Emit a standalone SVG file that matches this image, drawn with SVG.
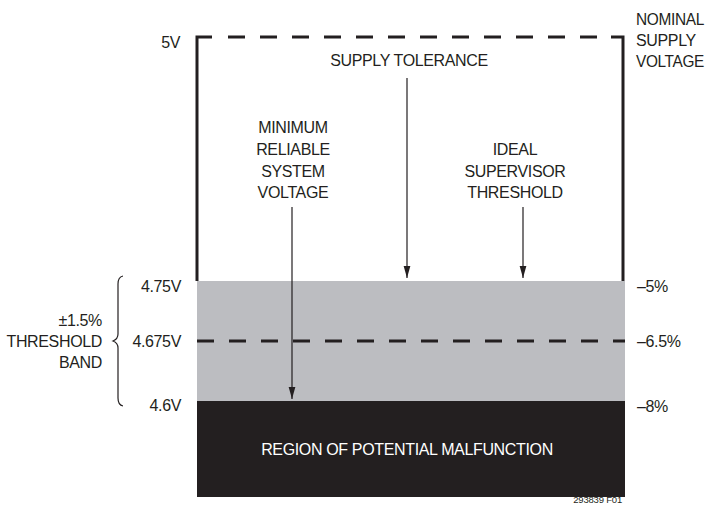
<svg xmlns="http://www.w3.org/2000/svg" width="708" height="516" viewBox="0 0 708 516">
<defs>
<marker id="ah" markerWidth="13" markerHeight="8" refX="12.5" refY="4" orient="auto" markerUnits="userSpaceOnUse" viewBox="0 0 13 8">
<path d="M0,0.5 L12.5,4 L0,7.5 Z" fill="#231f20"/>
</marker>
<style>
text{font-family:"Liberation Sans",Arial,sans-serif;font-size:16px;fill:#231f20;letter-spacing:-0.35px}
.c{text-anchor:middle}
.r{text-anchor:end}
.w{fill:#ffffff}
.sm{font-size:9.5px;letter-spacing:-0.2px}
.thick{stroke:#231f20;stroke-width:3;fill:none}
.dash{stroke:#231f20;stroke-width:3;fill:none;stroke-dasharray:17 15}
.arr{stroke:#231f20;stroke-width:1.2;fill:none}
</style>
</defs>
<rect width="708" height="516" fill="#ffffff"/>
<g id="bands">
<rect id="tolerance-band" x="197" y="281" width="428" height="120" fill="#bcbdc1"/>
<rect id="malfunction" x="197" y="401" width="428" height="96" fill="#231f20"/>
<text class="c w" x="407" y="455">REGION OF POTENTIAL MALFUNCTION</text>
</g>
<g id="supply-box">
<polyline class="thick" points="197,281 197,37 212,37"/>
<polyline class="thick" points="611,37 623,37 623,281"/>
<line class="dash" x1="228" y1="37" x2="603" y2="37"/>
</g>
<g id="threshold-line">
<line class="dash" x1="197" y1="341" x2="625" y2="341" stroke-dasharray="16 16"/>
</g>
<g id="connectors">
<line class="arr" x1="407" y1="78" x2="407" y2="278" marker-end="url(#ah)"/>
<line class="arr" x1="292" y1="207" x2="292" y2="399" marker-end="url(#ah)"/>
<line class="arr" x1="523" y1="207" x2="523" y2="278" marker-end="url(#ah)"/>
</g>
<g id="label-supply-tolerance">
<text class="c" x="409" y="66">SUPPLY TOLERANCE</text>
</g>
<g id="label-minimum">
<text class="c" x="293" y="133">MINIMUM</text>
<text class="c" x="293" y="155">RELIABLE</text>
<text class="c" x="293" y="177">SYSTEM</text>
<text class="c" x="293" y="198">VOLTAGE</text>
</g>
<g id="label-ideal">
<text class="c" x="515" y="155">IDEAL</text>
<text class="c" x="515" y="177">SUPERVISOR</text>
<text class="c" x="515" y="198">THRESHOLD</text>
</g>
<g id="label-nominal">
<text x="636" y="25" textLength="68" lengthAdjust="spacingAndGlyphs">NOMINAL</text>
<text x="636" y="46">SUPPLY</text>
<text x="636" y="67" textLength="68" lengthAdjust="spacingAndGlyphs">VOLTAGE</text>
</g>
<g id="left-scale">
<text class="r" x="180" y="48">5V</text>
<text class="r" x="181" y="292">4.75V</text>
<text class="r" x="181" y="347">4.675V</text>
<text class="r" x="181" y="411">4.6V</text>
</g>
<g id="right-scale">
<text x="637" y="292">–5%</text>
<text x="637" y="347">–6.5%</text>
<text x="637" y="412">–8%</text>
</g>
<g id="threshold-band">
<path d="M123,276 Q118,277 118,284 L118,334 Q118,339 113,341 Q118,343 118,348 L118,398 Q118,405 123,406" fill="none" stroke="#231f20" stroke-width="1.2"/>
<text class="r" x="102" y="326">±1.5%</text>
<text class="r" x="102" y="347">THRESHOLD</text>
<text class="r" x="102" y="368">BAND</text>
</g>
<text class="r sm" x="622" y="503">293839 F01</text>
</svg>
